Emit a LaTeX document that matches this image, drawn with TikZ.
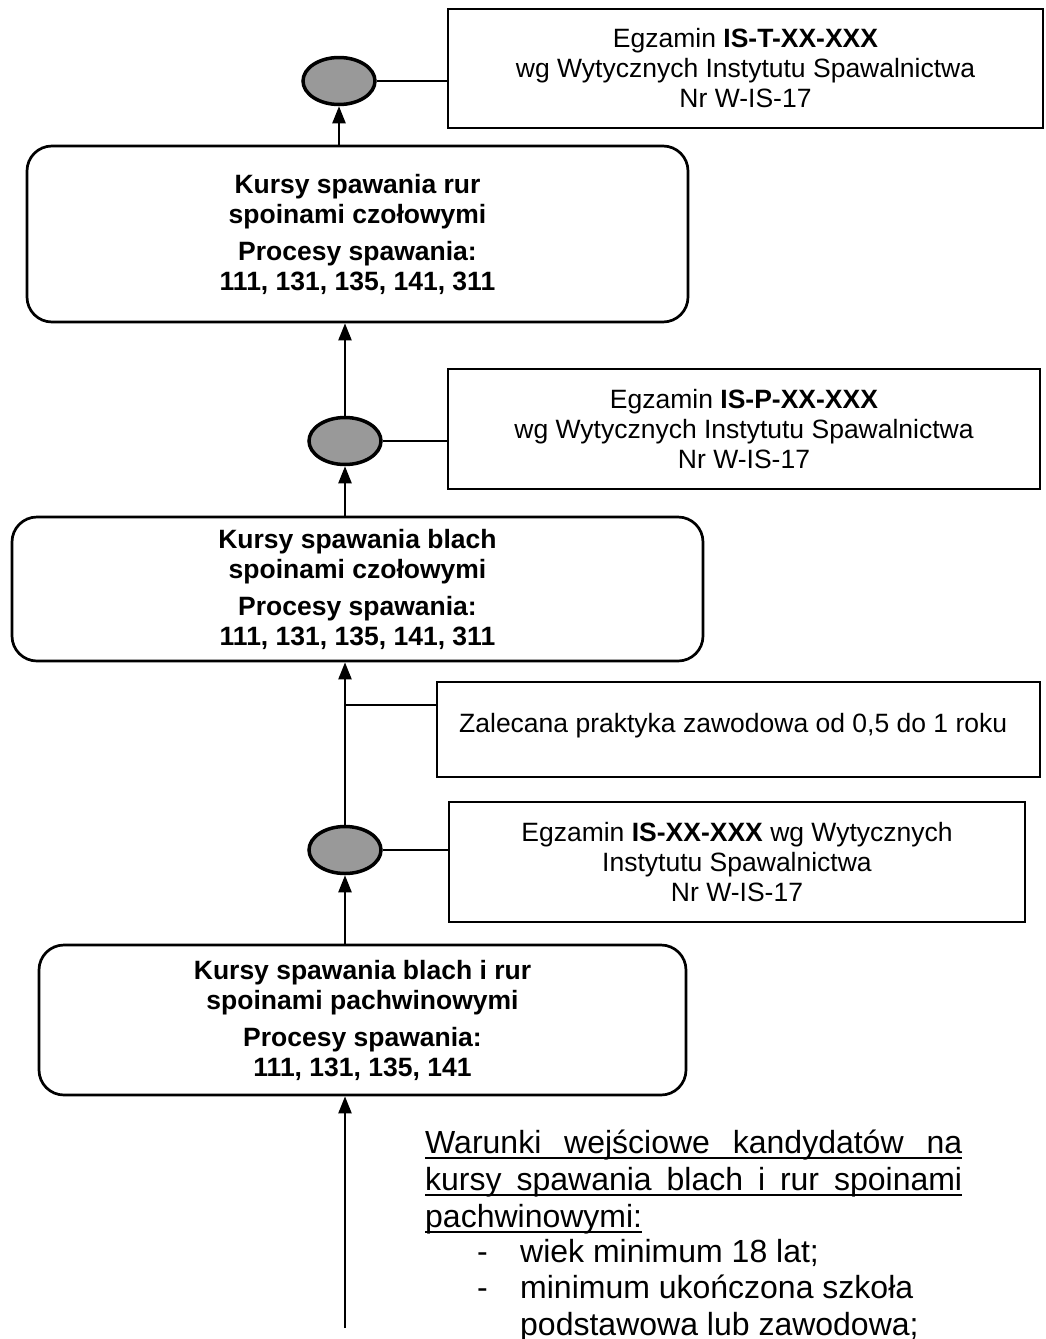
\documentclass[tikz,border=0pt]{standalone}
\usepackage{fontspec}
\setmainfont{Liberation Sans}
\usetikzlibrary{arrows.meta,calc,shapes.geometric}
\definecolor{circgray}{RGB}{153,153,153}
\begin{document}
\begin{tikzpicture}[x=1pt,y=-1pt,
  course/.style={draw, line width=2.7pt, rounded corners=25pt, inner sep=0pt,
    font=\fontsize{26.5}{30}\selectfont\bfseries, align=center},
  exam/.style={draw, line width=2.5pt, inner sep=0pt,
    font=\fontsize{26.5}{30}\selectfont, align=center},
  stage/.style={ellipse, draw, line width=3.5pt, fill=circgray,
    minimum width=72pt, minimum height=47pt, inner sep=0pt},
  arr/.style={line width=2.2pt, -{Triangle[length=17pt,width=13pt]}},
  link/.style={line width=1.8pt},
  cond/.style={font=\fontsize{32}{36.5}\selectfont, inner sep=0pt, anchor=base west},
  plain/.style={font=\fontsize{26.5}{30}\selectfont, inner sep=0pt, anchor=base west},
]
\useasboundingbox (0,0) rectangle (1045,1339);

% course boxes
\node[course, minimum width=661pt, minimum height=176pt] (box1) at (357.5,234)
  {Kursy spawania rur\\spoinami czołowymi\\[7pt]Procesy spawania:\\111, 131, 135, 141, 311};
\node[course, minimum width=691pt, minimum height=144pt] (box2) at (357.5,589)
  {Kursy spawania blach\\spoinami czołowymi\\[7pt]Procesy spawania:\\111, 131, 135, 141, 311};
\node[course, minimum width=647pt, minimum height=150pt] (box3) at (362.5,1020)
  {Kursy spawania blach i rur\\spoinami pachwinowymi\\[7pt]Procesy spawania:\\111, 131, 135, 141};

% exam boxes
\node[exam, minimum width=595pt, minimum height=119pt] (examT) at (745.5,68.5)
  {Egzamin \textbf{IS-T-XX-XXX}\\wg Wytycznych Instytutu Spawalnictwa\\Nr W-IS-17};
\node[exam, minimum width=592pt, minimum height=120pt] (examP) at (744,429)
  {Egzamin \textbf{IS-P-XX-XXX}\\wg Wytycznych Instytutu Spawalnictwa\\Nr W-IS-17};
\node[exam, minimum width=576pt, minimum height=120pt] (examX) at (737,862)
  {Egzamin \textbf{IS-XX-XXX} wg Wytycznych\\Instytutu Spawalnictwa\\Nr W-IS-17};
\node[exam, minimum width=603pt, minimum height=95pt] (zal) at (738.5,729.5) {};
\node[plain] (zaltext) at (459,732) {Zalecana praktyka zawodowa od 0,5 do 1 roku};

% exam stages
\node[stage] (c1) at (339,81) {};
\node[stage] (c2) at (345,441) {};
\node[stage] (c3) at (345,850) {};

% connectors
\draw[arr] (c1.south |- box1.north) -- (c1.south);
\draw[link] (c1.east) -- (c1.east -| examT.west);
\draw[arr] (c2.north) -- (c2.north |- box1.south);
\draw[link] (c2.east) -- (c2.east -| examP.west);
\draw[arr] (c2.south |- box2.north) -- (c2.south);
\draw[arr] (c3.north) -- (c3.north |- box2.south);
\coordinate (br) at (345,705);
\draw[link] (br) -- (br -| zal.west);
\draw[link] (c3.east) -- (c3.east -| examX.west);
\draw[arr] (c3.south |- box3.north) -- (c3.south);
\coordinate (start) at (345,1328);
\draw[arr] (start) -- (start |- box3.south);

% entry conditions
\node[cond] (w1) at (425,1153) {\makebox[537pt][s]{Warunki wejściowe kandydatów na}};
\node[cond] (w2) at (425,1190) {\makebox[537pt][s]{kursy spawania blach i rur spoinami}};
\node[cond] (w3) at (425,1227) {pachwinowymi:};
\draw[line width=2.5pt] ($(w1.base west)+(0,5)$) -- ($(w1.base east)+(0,5)$);
\draw[line width=2.5pt] ($(w2.base west)+(0,5)$) -- ($(w2.base east)+(0,5)$);
\draw[line width=2.5pt] ($(w3.base west)+(0,5)$) -- ($(w3.base east)+(0,5)$);
\node[cond] (d1) at (477,1262) {-};
\node[cond] (t1) at (520,1262) {wiek minimum 18 lat;};
\node[cond] (d2) at (477,1298) {-};
\node[cond] (t2) at (520,1298) {minimum ukończona szkoła};
\node[cond] (t3) at (520,1335) {podstawowa lub zawodowa;};
\end{tikzpicture}
\end{document}
